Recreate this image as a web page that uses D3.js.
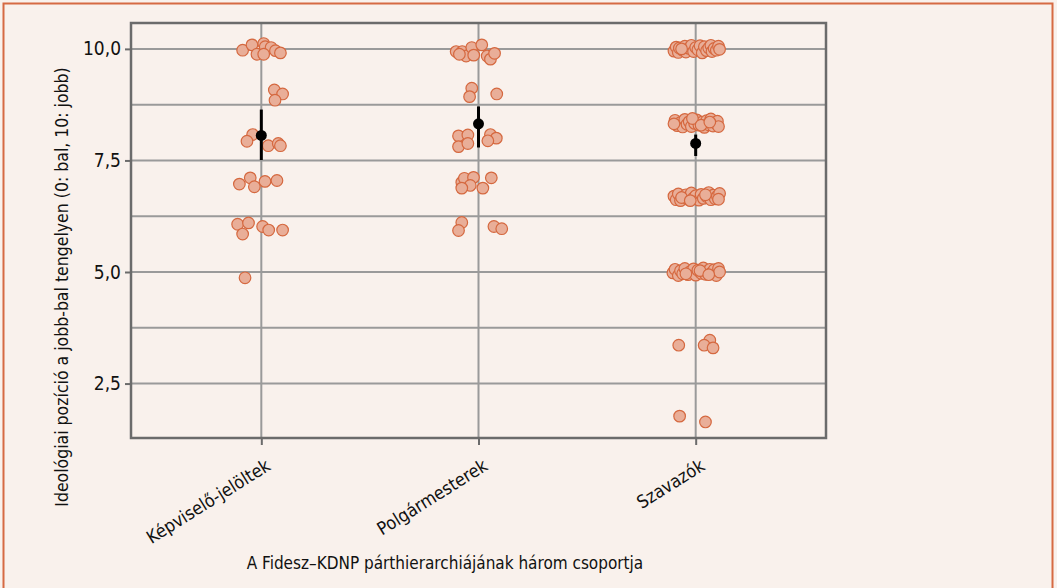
<!DOCTYPE html>
<html><head><meta charset="utf-8">
<script src="https://cdn.jsdelivr.net/npm/d3@7"></script>
<style>
body{margin:0;background:#f9f1ec;}
text{font-family:"Liberation Sans Narrow","DejaVu Sans Condensed","Liberation Sans",sans-serif;fill:#111;}
</style></head><body>
<svg id="c" width="1057" height="588"></svg>
<script>
const categories = ["Képviselő-jelöltek","Polgármesterek","Szavazók"];
const yTicks = [2.5,5,7.5,10];
const yMinor = [3.75,6.25,8.75];
// jitter offsets (category units) and values
const g1Off = [-0.086,-0.043,0.011,0.018,0.045,0.065,0.088,-0.020,0.011,0.060,0.098,0.063,-0.040,-0.066,0.032,0.078,0.088,-0.101,-0.051,-0.032,0.017,0.072,-0.109,-0.059,-0.086,0.006,0.034,0.098,-0.075];
const g1Val = [9.97,10.09,10.12,10.05,10.03,9.96,9.91,9.88,9.88,9.08,8.99,8.85,8.08,7.93,7.83,7.88,7.83,6.97,7.11,6.91,7.03,7.05,6.07,6.10,5.85,6.02,5.94,5.94,4.87];
const g2Off = [-0.103,-0.075,-0.057,-0.031,-0.022,0.015,0.040,0.055,0.074,-0.088,-0.031,-0.041,0.084,-0.092,-0.049,-0.092,-0.049,0.055,0.082,0.043,-0.077,-0.065,-0.023,-0.038,-0.077,0.020,0.059,-0.077,-0.092,0.071,0.107];
const g2Val = [9.94,9.94,9.84,10.03,9.86,10.09,9.84,9.77,9.90,9.88,9.12,8.93,8.99,8.05,8.07,7.81,7.88,8.08,8.00,7.94,7.01,7.10,7.12,6.94,6.88,6.88,7.11,6.11,5.93,6.02,5.97];
const g3Off = [
 -0.10,-0.09,-0.08,-0.075,-0.06,-0.05,-0.045,-0.03,-0.02,-0.01,0.0,0.01,0.02,0.03,0.04,0.05,0.06,0.07,0.075,0.085,0.095,0.105,0.11,-0.065,
 -0.095,-0.085,-0.07,-0.06,-0.05,-0.04,-0.03,-0.02,-0.005,0.005,0.015,0.03,0.04,0.05,0.06,0.07,0.08,0.09,0.10,0.105,-0.1,-0.015,0.025,0.065,
 -0.10,-0.09,-0.08,-0.07,-0.055,-0.045,-0.035,-0.02,-0.01,0.0,0.015,0.025,0.035,0.05,0.06,0.07,0.08,0.09,0.10,0.11,-0.065,-0.025,0.045,0.105,
 -0.105,-0.095,-0.08,-0.07,-0.06,-0.05,-0.035,-0.025,-0.01,0.0,0.01,0.025,0.035,0.045,0.055,0.065,0.075,0.085,0.095,0.105,0.11,-0.045,0.02,0.06,
 -0.078,0.065,0.039,0.080,
 -0.074,0.045];
const g3Val = [
 9.95,10.04,9.92,10.02,9.97,10.06,9.93,10.01,10.08,9.94,10.03,9.98,10.07,9.91,10.05,9.96,10.02,10.08,9.94,10.01,9.97,10.06,9.99,10.00,
 8.40,8.28,8.35,8.25,8.42,8.31,8.37,8.26,8.33,8.41,8.29,8.36,8.24,8.39,8.30,8.43,8.27,8.34,8.38,8.26,8.32,8.44,8.29,8.36,
 6.70,6.62,6.75,6.60,6.68,6.73,6.63,6.77,6.66,6.71,6.61,6.74,6.65,6.69,6.78,6.62,6.72,6.64,6.70,6.76,6.67,6.60,6.73,6.63,
 4.98,5.06,4.92,5.03,4.96,5.08,4.94,5.01,5.07,4.93,5.04,4.97,5.09,4.95,5.02,5.06,4.99,5.05,4.92,5.08,5.00,4.96,5.03,4.94,
 3.36,3.47,3.36,3.30,
 1.77,1.64];
const groups = [[g1Off,g1Val],[g2Off,g2Val],[g3Off,g3Val]];
const means = [8.06,8.32,7.88];
const lows  = [7.51,7.79,7.60];
const highs = [8.64,8.71,8.08];
const xTitle = "A Fidesz–KDNP párthierarchiájának három csoportja";
const yTitle = "Ideológiai pozíció a jobb-bal tengelyen (0: bal, 10: jobb)";

const svg = d3.select("#c");
svg.append("rect").attr("x",3.5).attr("y",3.5).attr("width",1049).attr("height",620)
  .attr("fill","#f9f1ec").attr("stroke","#d66a43").attr("stroke-width",2);

const L=131,R=826,T=23,B=438;
const x = d3.scaleLinear().domain([0.4,3.6]).range([L,R]);
const y = d3.scaleLinear().domain([1.28,10.58]).range([B,T]);

const grid = svg.append("g");
grid.selectAll(".gy").data(yTicks.concat(yMinor)).join("line")
  .attr("x1",L).attr("x2",R).attr("y1",d=>y(d)).attr("y2",d=>y(d))
  .attr("stroke","#9a9a9a").attr("stroke-width",2);
grid.selectAll(".gx").data(categories).join("line")
  .attr("x1",(d,i)=>x(i+1)).attr("x2",(d,i)=>x(i+1)).attr("y1",T).attr("y2",B)
  .attr("stroke","#9a9a9a").attr("stroke-width",2);

// points
const pts = [];
groups.forEach((g,i)=>g[0].forEach((o,j)=>pts.push({cx:i+1+o,v:g[1][j]})));
svg.append("g").selectAll("circle").data(pts).join("circle")
  .attr("cx",d=>x(d.cx)).attr("cy",d=>y(d.v)).attr("r",5.8)
  .attr("fill","#e9ae98").attr("stroke","#d5683f").attr("stroke-width",1.2);

// means + intervals
const m = svg.append("g");
m.selectAll("line").data(means).join("line")
  .attr("x1",(d,i)=>x(i+1)).attr("x2",(d,i)=>x(i+1))
  .attr("y1",(d,i)=>y(lows[i])).attr("y2",(d,i)=>y(highs[i]))
  .attr("stroke","#000").attr("stroke-width",3);
m.selectAll("circle").data(means).join("circle")
  .attr("cx",(d,i)=>x(i+1)).attr("cy",d=>y(d)).attr("r",5.5).attr("fill","#000");

// panel border
svg.append("rect").attr("x",L).attr("y",T).attr("width",R-L).attr("height",B-T)
  .attr("fill","none").attr("stroke","#6b6b6b").attr("stroke-width",2.5);

// y axis
const fmt = d3.format(".1f");
const ya = svg.append("g").attr("transform",`translate(${L-1},0)`)
  .call(d3.axisLeft(y).tickValues(yTicks).tickSize(5).tickPadding(4).tickFormat(d=>fmt(d).replace(".",",")));
ya.select(".domain").remove();
ya.selectAll("line").attr("stroke","#6b6b6b").attr("stroke-width",2);
ya.selectAll("text").attr("font-size",19).attr("fill","#111")
  .style("font-family",'"Liberation Sans Narrow","DejaVu Sans Condensed",sans-serif');

// x axis
const xa = svg.append("g").attr("transform",`translate(0,${B+1})`)
  .call(d3.axisBottom(x).tickValues([1,2,3]).tickSize(6).tickFormat((d)=>categories[d-1]));
xa.select(".domain").remove();
xa.selectAll("line").attr("stroke","#6b6b6b").attr("stroke-width",2);
xa.selectAll("text").attr("font-size",18).attr("text-anchor","end")
  .attr("y",0).attr("dy",0)
  .attr("transform","translate(10,30) rotate(-32)")
  .style("font-family",'"Liberation Sans Narrow","DejaVu Sans Condensed",sans-serif');

svg.append("text").attr("x",445).attr("y",569).attr("text-anchor","middle")
  .attr("font-size",17).text(xTitle);
svg.append("text").attr("transform","translate(68,287) rotate(-90)").attr("text-anchor","middle")
  .attr("font-size",17.5).text(yTitle);
</script></body></html>
